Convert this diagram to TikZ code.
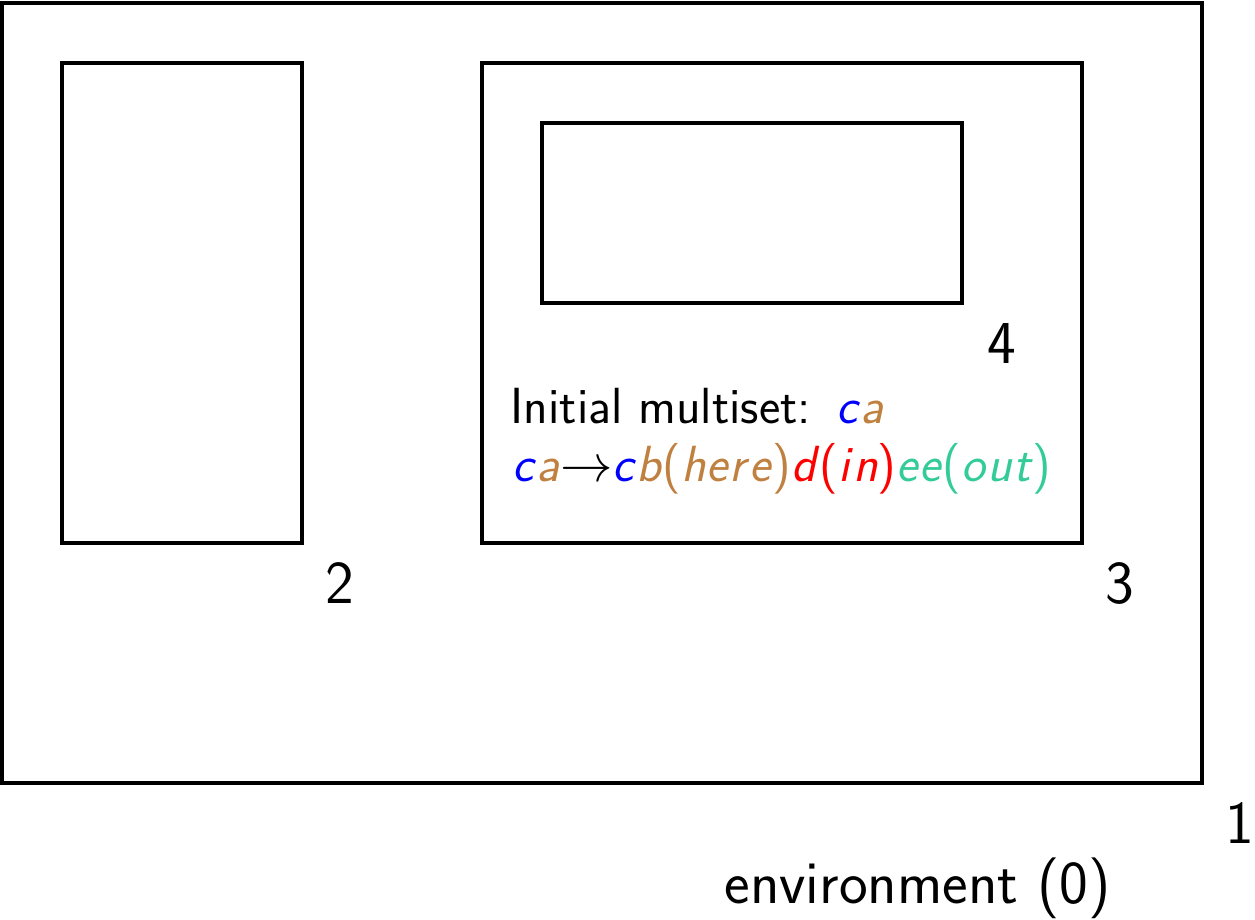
\documentclass[tikz,border=0pt]{standalone}
\usepackage{xcolor}
\definecolor{cblue}{RGB}{0,0,255}
\definecolor{cbrown}{rgb}{0.75,0.5,0.25}
\definecolor{cred}{RGB}{255,0,0}
\definecolor{cgreen}{RGB}{51,204,153}
\newcommand{\mv}[1]{\textit{#1}}
\begin{document}
\begin{tikzpicture}[x=60pt/2.109,y=60pt/2.109,
  membrane/.style={draw=black,line width=1.5pt},
  lbl/.style={inner sep=0pt,font=\fontsize{28.9}{34}\selectfont\sffamily},
  inner/.style={inner sep=0pt,anchor=base west,font=\fontsize{24.1}{29}\selectfont\sffamily}]
\useasboundingbox (-0.033,0.05) rectangle (20.883,-15.267);
\draw[membrane] (0,0) rectangle (20,-13);
\draw[membrane] (1,-1) rectangle (5,-9);
\draw[membrane] (8,-1) rectangle (18,-9);
\draw[membrane] (9,-2) rectangle (16,-5);
\node[lbl] (l2) at (5.633,-9.667) {2};
\node[lbl] (l3) at (18.633,-9.667) {3};
\node[lbl] (l4) at (16.66,-5.667) {4};
\node[lbl] (l1) at (20.633,-13.667) {1};
\node[lbl,anchor=base] (env) at (15.26,-15.0) {environment (0)};
\node[inner] (init) at (8.47,-7.0) {Initial multiset:\hspace{0.5em}\textcolor{cblue}{\mv{c\/}}\textcolor{cbrown}{\mv{a\/}}};
\node[inner] (rule) at (8.50,-7.983) {\textcolor{cblue}{\mv{c\/}}\textcolor{cbrown}{\mv{a\/}}$\rightarrow$\textcolor{cblue}{\mv{c\/}}\textcolor{cbrown}{\mv{b\/}(\mv{h\/e\/r\/e\/})}\textcolor{cred}{\mv{d\/}(\mv{i\/n\/})}\textcolor{cgreen}{\mv{e\/e\/}(\mv{o\/u\/t\/})}};
\end{tikzpicture}
\end{document}
